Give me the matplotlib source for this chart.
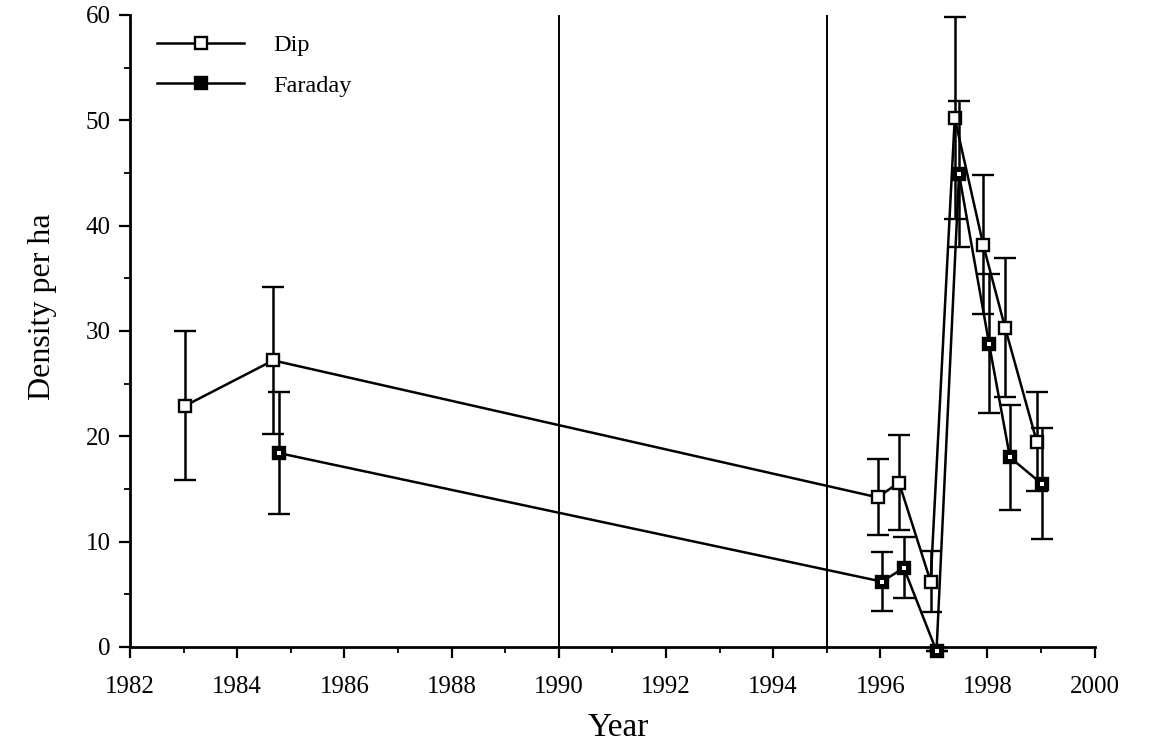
import matplotlib
matplotlib.use("Agg")
import matplotlib.pyplot as plt
from matplotlib.ticker import MultipleLocator
from matplotlib.lines import Line2D

plt.rcParams['font.family'] = ['Liberation Serif', 'DejaVu Serif']

# Data
dip_year = [1983.03, 1984.67, 1995.95, 1996.35, 1996.94, 1997.39, 1997.92, 1998.33, 1998.92]
dip_val = [22.9, 27.2, 14.2, 15.6, 6.2, 50.2, 38.2, 30.3, 19.5]
dip_err = [7.1, 7.0, 3.6, 4.5, 2.9, 9.6, 6.6, 6.6, 4.7]

far_year = [1984.78, 1996.03, 1996.44, 1997.05, 1997.47, 1998.03, 1998.42, 1999.01]
far_val = [18.4, 6.2, 7.5, -0.4, 44.9, 28.8, 18.0, 15.5]
far_err = [5.8, 2.8, 2.9, 0.0, 6.9, 6.6, 5.0, 5.3]

vlines = [1990, 1995]
xticks = [1982, 1984, 1986, 1988, 1990, 1992, 1994, 1996, 1998, 2000]
yticks = [0, 10, 20, 30, 40, 50, 60]

fig = plt.figure(figsize=(11.51, 7.47), dpi=100)
ax = fig.add_axes([0.113, 0.134, 0.838, 0.846])

for v in vlines:
    ax.axvline(v, color='black', lw=1.4, zorder=1)

common = dict(fmt='-s', color='black', lw=1.8, elinewidth=1.8, capsize=8,
              capthick=1.8, ms=9, mec='black', mew=1.7, clip_on=False)
ax.errorbar(dip_year, dip_val, yerr=dip_err, mfc='white', zorder=3,
            label='Dip', **common)
ax.errorbar(far_year, far_val, yerr=far_err, mfc='black', zorder=4,
            label='Faraday', **common)
ax.plot(far_year, far_val, 's', ms=2.2, mfc='white', mec='white', mew=0,
        zorder=5, clip_on=False)

ax.set_xlim(1982, 2000)
ax.set_ylim(0, 60)
ax.set_xticks(xticks)
ax.set_yticks(yticks)
ax.xaxis.set_minor_locator(MultipleLocator(1))
ax.yaxis.set_minor_locator(MultipleLocator(5))
ax.tick_params(axis='both', which='major', direction='out', length=8, width=1.6,
               labelsize=18)
ax.tick_params(axis='x', which='major', pad=13)
ax.tick_params(axis='y', which='major', pad=6)
ax.tick_params(axis='both', which='minor', direction='out', length=4.5, width=1.3)
for s in ['top', 'right']:
    ax.spines[s].set_visible(False)
for s in ['left', 'bottom']:
    ax.spines[s].set_linewidth(2.0)

ax.set_xlabel('Year', fontsize=24)
ax.set_ylabel('Density per ha', fontsize=23)
ax.xaxis.set_label_coords(0.506, -0.104)
ax.yaxis.set_label_coords(-0.0756, 0.538)

h_dip = Line2D([], [], color='black', lw=1.8, marker='s', ms=9, mfc='white', mec='black', mew=1.7)
h_far = Line2D([], [], color='black', lw=1.8, marker='s', ms=9, mfc='black', mec='black', mew=1.7)
ax.legend([h_dip, h_far], ['Dip', 'Faraday'], loc='upper left',
          bbox_to_anchor=(0.005, 1.004), frameon=False, fontsize=17.5,
          handlelength=3.6, handletextpad=1.2, labelspacing=0.76, numpoints=1)

fig.savefig('out.png', dpi=100)
